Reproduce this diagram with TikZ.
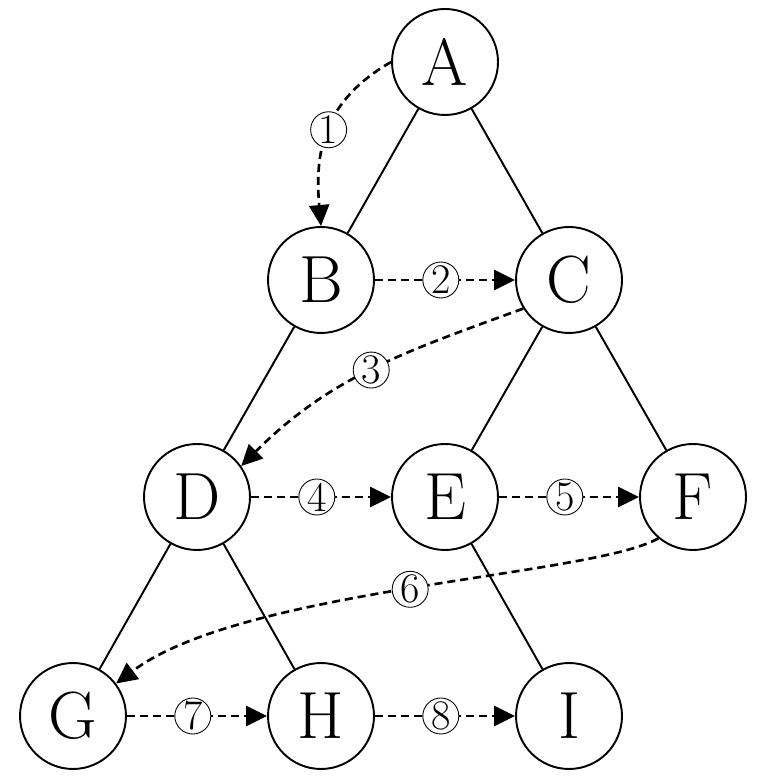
\documentclass[tikz,border=0pt]{standalone}
\usepackage{tikz}
\usetikzlibrary{arrows.meta}

\begin{document}
\begin{tikzpicture}[x=0.02cm, y=0.02cm,
  vert/.style={draw,circle,line width=1.1pt,minimum size=2.12cm,inner sep=0pt,font=\fontsize{38}{40}\selectfont},
  num/.style={draw,solid,circle,line width=0.5pt,fill=white,minimum size=0.72cm,inner sep=0pt,font=\fontsize{24}{26}\selectfont},
  tree/.style={line width=1.1pt},
  trav/.style={line width=1.5pt,dash pattern=on 4.6pt off 2.8pt,-{Triangle[length=0.42cm,width=0.4cm]}}]
\useasboundingbox (0,0) rectangle (768,776);
% vertices
\node[vert] (A) at (445,714) {A};
\node[vert] (B) at (321,496) {B};
\node[vert] (C) at (569,496) {C};
\node[vert] (D) at (197,279) {D};
\node[vert] (E) at (445,279) {E};
\node[vert] (F) at (693,279) {F};
\node[vert] (G) at (73,60) {G};
\node[vert] (H) at (321,60) {H};
\node[vert] (I) at (569,60) {I};
% tree edges
\draw[tree] (A)--(B); \draw[tree] (A)--(C);
\draw[tree] (B)--(D); \draw[tree] (C)--(E); \draw[tree] (C)--(F);
\draw[tree] (D)--(G); \draw[tree] (D)--(H); \draw[tree] (E)--(I);
% traversal order
\draw[trav] (A.west) to[out=210,in=95,looseness=1.1] node[num] {1} (B.north);
\draw[trav] (B)--node[num,pos=0.47] {2} (C);
\draw[trav] (C.212) to[out=200,in=45] node[num] {3} (D.35);
\draw[trav] (D)--node[num,pos=0.47] {4} (E);
\draw[trav] (E)--node[num,pos=0.47] {5} (F);
\draw[trav] (F.230) .. controls +(210:76) and +(37:159) .. node[num] {6} (G.37);
\draw[trav] (G)--node[num,pos=0.47] {7} (H);
\draw[trav] (H)--node[num,pos=0.47] {8} (I);
\end{tikzpicture}
\end{document}
